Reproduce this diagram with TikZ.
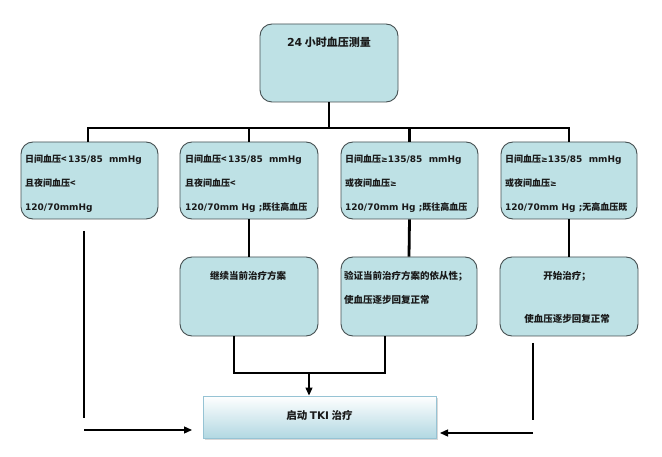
\documentclass[tikz,border=0pt]{standalone}
\usepackage{fontspec}
\newfontfamily\cjk{Noto Sans CJK SC}
\newfontfamily\dvs{DejaVu Sans}
\usetikzlibrary{arrows.meta,shadows,calc}
\definecolor{boxfill}{RGB}{190,225,229}
\definecolor{boxline}{RGB}{70,80,82}
\definecolor{textcol}{RGB}{25,25,25}
\definecolor{tkitop}{RGB}{255,255,255}
\definecolor{tkibot}{RGB}{178,216,226}
\definecolor{tkiline}{RGB}{150,195,212}
\newcommand\EN[1]{{\dvs\bfseries #1}}
\newcommand\GEQ{{\dvs\fontsize{8}{9}\selectfont ≥}}
\begin{document}
\begin{tikzpicture}[x=1pt,y=-1pt,
  rbox/.style={draw=boxline, fill=boxfill, rounded corners=12pt, line width=0.9pt, inner sep=0pt},
  txt/.style={inner sep=0pt, text=textcol, font=\cjk\bfseries\fontsize{9}{10}\selectfont},
  ltxt/.style={txt, anchor=west},
  thickln/.style={line width=2.8pt, black},
  thinln/.style={line width=1.3pt, black},
  arr/.style={thinln, -{Triangle[length=8pt,width=7pt]}}
]
\fill[white] (0,0) rectangle (662,457);
\useasboundingbox (0,0) rectangle (662,457);

% top box
\node[rbox, minimum width=138pt, minimum height=78pt] (top) at (329,63) {};
\node[txt, font=\cjk\bfseries\fontsize{11}{12}\selectfont] (toptxt) at (329,42) {\EN{24} 小时血压测量};

% level 2 boxes
\node[rbox, minimum width=137pt, minimum height=77pt] (b1) at (89.5,180.5) {};
\node[rbox, minimum width=138pt, minimum height=77pt] (b2) at (249,180.5) {};
\node[rbox, minimum width=137pt, minimum height=77pt] (b3) at (409.5,180.5) {};
\node[rbox, minimum width=136pt, minimum height=77pt] (b4) at (569,180.5) {};

\node[ltxt] (b1a) at (25,160) {日间血压<\,\EN{135/85\ \ mmHg}};
\node[ltxt] (b1b) at (25,183) {且夜间血压<};
\node[ltxt] (b1c) at (25,208) {\EN{120/70mmHg}};

\node[ltxt] (b2a) at (185,160) {日间血压<\,\EN{135/85\ \ mmHg}};
\node[ltxt] (b2b) at (185,183) {且夜间血压<};
\node[ltxt] (b2c) at (185,208) {\EN{120/70mm Hg ;}既往高血压};

\node[ltxt] (b3a) at (345,160) {日间血压\GEQ\EN{135/85\ \ mmHg}};
\node[ltxt] (b3b) at (345,183) {或夜间血压\GEQ};
\node[ltxt] (b3c) at (345,208) {\EN{120/70mm Hg ;}既往高血压};

\node[ltxt] (b4a) at (505,160) {日间血压\GEQ\EN{135/85\ \ mmHg}};
\node[ltxt] (b4b) at (505,183) {或夜间血压\GEQ};
\node[ltxt] (b4c) at (505,208) {\EN{120/70mm Hg ;}无高血压既};

% level 3 boxes
\node[rbox, minimum width=138pt, minimum height=79pt] (c2) at (249,296.5) {};
\node[rbox, minimum width=136pt, minimum height=79pt] (c3) at (409,296.5) {};
\node[rbox, minimum width=138pt, minimum height=79pt] (c4) at (569,296.5) {};

\node[txt, font=\cjk\bfseries\fontsize{9.5}{10}\selectfont] (c2a) at (248,276) {继续当前治疗方案};
\node[ltxt, font=\cjk\bfseries\fontsize{9.5}{10}\selectfont] (c3a) at (344,276) {验证当前治疗方案的依从性；};
\node[ltxt, font=\cjk\bfseries\fontsize{9.5}{10}\selectfont] (c3b) at (344,300) {使血压逐步回复正常};
\node[txt, font=\cjk\bfseries\fontsize{9.5}{10}\selectfont] (c4a) at (567,276) {开始治疗；};
\node[txt, font=\cjk\bfseries\fontsize{9.5}{10}\selectfont] (c4b) at (567,319) {使血压逐步回复正常};

% bottom box
\node[draw=tkiline, line width=0.9pt, top color=tkitop, bottom color=tkibot,
      drop shadow={opacity=0.3, shadow xshift=1.5pt, shadow yshift=-2pt},
      minimum width=233pt, minimum height=42pt, inner sep=0pt] (d) at (319.5,417) {};
\node[txt, font=\cjk\bfseries\fontsize{10.5}{11}\selectfont] (dtxt) at (319.5,415) {启动 \EN{TKI} 治疗};

% bar and connectors
\coordinate (barL) at (88,128);
\coordinate (barR) at (569,128);
\draw[thickln, line cap=rect] (barL) -- (barR);
\draw[thickln] (top.south) -- (top.south |- barL);
\draw[thickln] (b1.north -| barL) -- (barL);
\draw[thickln] (b2.north) -- (b2.north |- barL);
\draw[thickln] (b3.north) -- (b3.north |- barL);
\draw[thickln] (b4.north -| barR) -- (barR);

\draw[thickln] (b2.south) -- (c2.north);
\draw[thickln] (b3.south) -- (c3.north);
\draw[thickln] (b4.south) -- (c4.north);

\coordinate (j1) at (234,373);
\coordinate (j2) at (385,373);
\coordinate (jm) at (309,373);
\draw[thinln] (c2.south -| j1) -- (j1) -- (j2) -- (c3.south -| j2);
\draw[arr] (jm) -- (d.north -| jm);

\coordinate (l1) at (84,231);
\coordinate (l2) at (84,418);
\coordinate (l3) at (84,430);
\coordinate (l4) at (192,430);
\draw[thinln] (l1) -- (l2);
\draw[arr] (l3) -- (l4);

\coordinate (r1) at (533,343);
\coordinate (r2) at (533,420);
\coordinate (r3) at (533,433);
\coordinate (r4) at (440,433);
\draw[thinln] (r1) -- (r2);
\draw[arr] (r3) -- (r4);
\end{tikzpicture}
\end{document}
